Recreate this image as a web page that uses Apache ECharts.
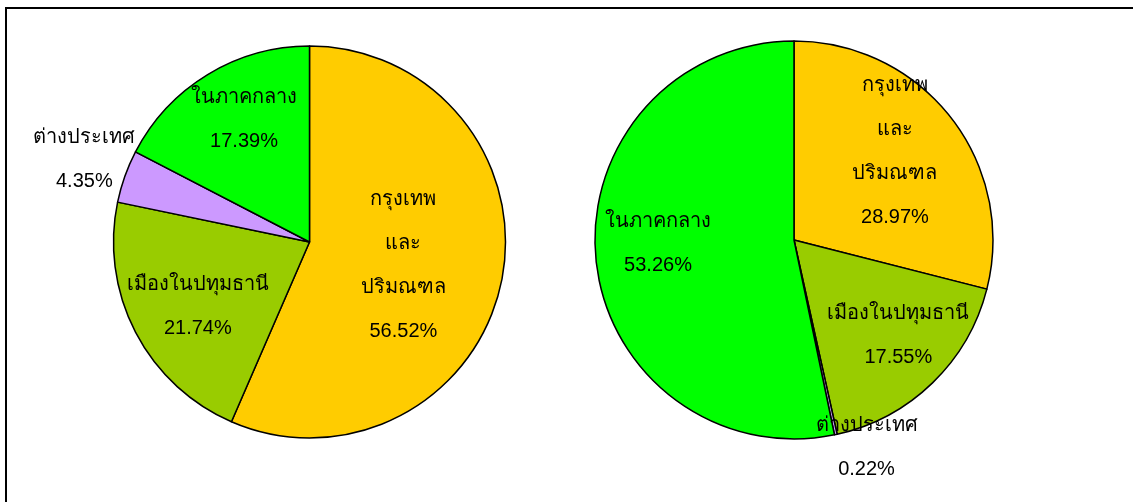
<!DOCTYPE html>
<html>
<head>
<meta charset="utf-8">
<script src="https://cdn.jsdelivr.net/npm/echarts@6/dist/echarts.min.js"></script>
<style>
  html, body { margin: 0; padding: 0; background: #fff; }
  #main { width: 1133px; height: 502px; position: relative; }
  .frame {
    position: absolute; left: 5px; top: 7px; right: 0; bottom: 0;
    border-left: 2px solid #000; border-top: 2px solid #000;
    pointer-events: none;
  }
</style>
</head>
<body>
<div id="main"></div>
<div class="frame"></div>
<script>
// ภูมิลำเนา (left) and ที่ทำงาน (right) -- percentages
var categories = ["กรุงเทพ\nและ\nปริมณฑล", "เมืองในปทุมธานี", "ต่างประเทศ", "ในภาคกลาง"];
var leftValues = [56.52, 21.74, 4.35, 17.39];
var rightValues = [28.97, 17.55, 0.22, 53.26];
var colors = ["#FFCC00", "#99CC00", "#CC99FF", "#00FF00"];

// nudges so labels sit where the original placed them
var leftShift = [[-5, 3], [-22, 18], [-130, -49], [-13, -36]];
var rightShift = [[20, -26], [33, 22], [51, 107], [-34, -7]];

function buildData(values) {
  return categories.map(function(name, i) {
    return { name: name, value: values[i], itemStyle: { color: colors[i] } };
  });
}

function makeSeries(values, center, radius, shift) {
  return {
    type: "pie",
    center: center,
    radius: radius,
    startAngle: 90,
    clockwise: true,
    silent: true,
    animation: false,
    itemStyle: { borderColor: "#000", borderWidth: 1.5 },
    label: {
      show: true,
      position: "inside",
      color: "#000",
      fontSize: 20,
      lineHeight: 44,
      fontFamily: "Liberation Sans, Arial, sans-serif",
      formatter: function(p) {
        return p.name + "\n" + p.value.toFixed(2) + "%";
      }
    },
    labelLine: { show: false },
    labelLayout: function(params) {
      var s = shift[params.dataIndex];
      return { dx: s[0], dy: s[1] };
    },
    data: buildData(values)
  };
}

var myChart = echarts.init(document.getElementById("main"));
var option = {
  backgroundColor: "#fff",
  series: [
    makeSeries(leftValues, [309.5, 242], 196, leftShift),
    makeSeries(rightValues, [794, 240], 199, rightShift)
  ]
};
myChart.setOption(option);
</script>
</body>
</html>
